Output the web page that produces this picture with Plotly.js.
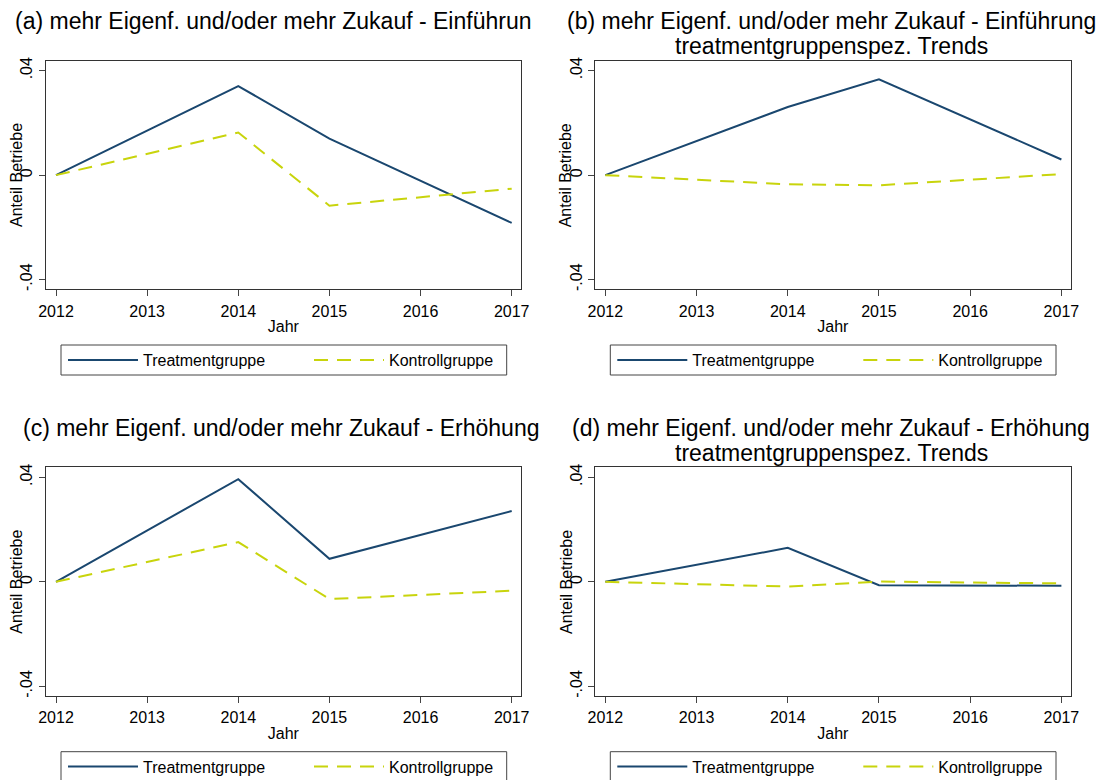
<!DOCTYPE html>
<html>
<head>
<meta charset="utf-8">
<script src="https://cdn.plot.ly/plotly-3.0.1.min.js"></script>
<style>html,body{margin:0;padding:0;background:#fff;}#chart{width:1108px;height:780px;}</style>
</head>
<body>
<div id="chart"></div>
<script>
// ---- data ----
const years = [2012, 2014, 2015, 2017];
const xTicks = [2012, 2013, 2014, 2015, 2016, 2017];
const yTickVals = [-0.04, 0, 0.04];
const yTickText = ['-.04', '0', '.04'];
const seriesNames = ['Treatmentgruppe', 'Kontrollgruppe'];

const treatA = [0, 0.0341, 0.0140, -0.0183];
const kontrA = [0, 0.0163, -0.0117, -0.0052];
const treatB = [0, 0.0261, 0.0367, 0.0060];
const kontrB = [0, -0.0035, -0.0039, 0.0004];
const treatC = [0, 0.0393, 0.0088, 0.0271];
const kontrC = [0, 0.0152, -0.0066, -0.0034];
const treatD = [0, 0.0130, -0.0013, -0.0015];
const kontrD = [0, -0.0018, 0.0001, -0.0006];

const titles = [
  ['(a) mehr Eigenf. und/oder mehr Zukauf - Einführun'],
  ['(b) mehr Eigenf. und/oder mehr Zukauf - Einführung', 'treatmentgruppenspez. Trends'],
  ['(c) mehr Eigenf. und/oder mehr Zukauf - Erhöhung'],
  ['(d) mehr Eigenf. und/oder mehr Zukauf - Erhöhung', 'treatmentgruppenspez. Trends']
];
const xTitle = 'Jahr';
const yTitle = 'Anteil Betriebe';

// ---- styling / layout ----
const W = 1108, H = 780;
const BLUE = '#1a476f', LIME = '#c8d40c';
const FONT = 'Liberation Sans, Arial, sans-serif';
const px = v => v / W;
const py = v => 1 - v / H;

const panels = [
  {t: treatA, k: kontrA, x0: 45.7, x1: 521,    top: 60.7,  bot: 289.3, titleX: 13,  align: 'left'},
  {t: treatB, k: kontrB, x0: 595,  x1: 1070.7, top: 60.7,  bot: 289.3, titleX: 831, align: 'center'},
  {t: treatC, k: kontrC, x0: 45.7, x1: 521,    top: 467.4, bot: 696,   titleX: 21,  align: 'left'},
  {t: treatD, k: kontrD, x0: 595,  x1: 1070.7, top: 467.4, bot: 696,   titleX: 831, align: 'center'}
];

const traces = [];
const layout = {
  width: W, height: H,
  margin: {l: 0, r: 0, t: 0, b: 0, autoexpand: false},
  paper_bgcolor: '#fff', plot_bgcolor: '#fff',
  font: {family: FONT, size: 16, color: '#000'},
  showlegend: true,
  annotations: [],
  shapes: []
};

panels.forEach((p, i) => {
  const n = i + 1;
  const xa = n === 1 ? 'x' : 'x' + n;
  const ya = n === 1 ? 'y' : 'y' + n;
  const lg = n === 1 ? 'legend' : 'legend' + n;
  traces.push({
    x: years, y: p.t, xaxis: xa, yaxis: ya, legend: lg,
    type: 'scatter', mode: 'lines', name: seriesNames[0],
    line: {color: BLUE, width: 2}
  });
  traces.push({
    x: years, y: p.k, xaxis: xa, yaxis: ya, legend: lg,
    type: 'scatter', mode: 'lines', name: seriesNames[1],
    line: {color: LIME, width: 2, dash: '14px,9px'}
  });
  const xk = n === 1 ? 'xaxis' : 'xaxis' + n;
  const yk = n === 1 ? 'yaxis' : 'yaxis' + n;
  layout[xk] = {
    domain: [px(p.x0), px(p.x1)], anchor: ya,
    range: [2011.887, 2017.102],
    tickvals: xTicks, ticks: 'outside', ticklen: 6, tickcolor: '#444', tickwidth: 1,
    showline: true, mirror: true, linecolor: '#333', linewidth: 1,
    showgrid: false, zeroline: false, automargin: false,
    ticklabelstandoff: 1,
    tickfont: {size: 16, color: '#000'},
    title: {text: xTitle, font: {size: 16, color: '#000'}, standoff: 2}
  };
  layout[yk] = {
    domain: [py(p.bot), py(p.top)], anchor: xa,
    range: [-0.0437, 0.0438],
    tickvals: yTickVals, ticktext: yTickText, tickangle: -90,
    ticks: 'outside', ticklen: 6, tickcolor: '#444', tickwidth: 1,
    showline: true, mirror: true, linecolor: '#333', linewidth: 1,
    showgrid: false, zeroline: false, automargin: false,
    tickfont: {size: 16, color: '#000'}
  };
  // y-axis title (Stata lets it sit close to the tick labels)
  layout.annotations.push({
    xref: 'paper', yref: 'paper',
    x: px(p.x0 - 28.7), xanchor: 'center',
    y: py((p.top + p.bot) / 2), yanchor: 'middle',
    text: yTitle, textangle: -90, showarrow: false,
    font: {size: 16, color: '#000', family: FONT}
  });
  // legend: items positioned by Plotly, frame drawn as a shape
  const lx0 = p.x0 + 15.3, lx1 = p.x0 + 461;
  const ly0 = p.top + 284.3, ly1 = p.top + 314.3;
  layout[lg] = {
    orientation: 'h',
    x: px(lx0 + 2), xanchor: 'left',
    y: py((ly0 + ly1) / 2), yanchor: 'middle',
    bgcolor: 'rgba(0,0,0,0)', borderwidth: 0,
    font: {size: 16, color: '#000', family: FONT},
    itemwidth: 70, entrywidth: 161, entrywidthmode: 'pixels',
    traceorder: 'normal', itemclick: false, itemdoubleclick: false
  };
  layout.shapes.push({
    type: 'rect', xref: 'paper', yref: 'paper',
    x0: px(lx0), x1: px(lx1), y0: py(ly1), y1: py(ly0),
    line: {color: '#444', width: 1}, fillcolor: 'rgba(0,0,0,0)', layer: 'below'
  });
  // titles
  const tTop = p.top - 39.7;
  titles[i].forEach((txt, j) => {
    layout.annotations.push({
      xref: 'paper', yref: 'paper',
      x: px(p.titleX), xanchor: p.align,
      y: py(tTop + j * 25), yanchor: 'middle',
      text: txt, showarrow: false,
      font: {size: 23, color: '#000', family: FONT}
    });
  });
});

Plotly.newPlot('chart', traces, layout, {displayModeBar: false, staticPlot: true});
</script>
</body>
</html>
